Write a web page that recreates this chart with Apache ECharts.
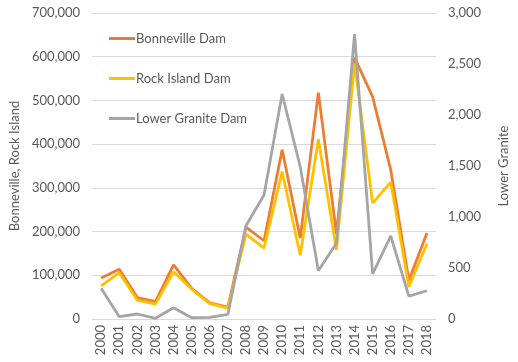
<!DOCTYPE html>
<html>
<head>
<meta charset="utf-8">
<script src="https://cdn.jsdelivr.net/npm/echarts@6/dist/echarts.min.js"></script>
<style>html,body{margin:0;padding:0;background:#fff}#c{width:518px;height:362px}</style>
</head>
<body>
<div id="c"></div>
<script>
const years = ['2000','2001','2002','2003','2004','2005','2006','2007','2008','2009','2010','2011','2012','2013','2014','2015','2016','2017','2018'];
const bonneville = [94000,114000,49000,40000,124000,70000,37000,27000,210000,179000,387000,185000,518000,195000,598000,508000,341000,88000,197000];
const rockIsland = [76000,106000,43000,34000,108000,68000,35000,25000,194000,162000,337000,146000,411000,158000,585000,265000,313000,74000,172000];
const lowerGranite = [301,23,49,7,111,13,15,45,915,1216,2206,1493,474,742,2794,441,814,225,277];
const leftTicks = {min:0,max:700000,interval:100000};
const rightTicks = {min:0,max:3000,interval:500};

const font = 'Lato, Open Sans, sans-serif';
const txt = '#595959';
const fs = 13;
const chart = echarts.init(document.getElementById('c'));
chart.setOption({
  animation:false,
  textStyle:{fontFamily:font},
  grid:{left:80,right:70,top:13,bottom:43,containLabel:false},
  legend:{
    orient:'vertical', left:104, top:27, itemGap:27,
    icon:'rect', itemWidth:26, itemHeight:3,
    textStyle:{color:txt,fontSize:fs,fontFamily:font,padding:[0,0,0,-4]},
    data:['Bonneville Dam','Rock Island Dam','Lower Granite Dam']
  },
  xAxis:{
    type:'category', data:years, boundaryGap:true,
    axisLine:{lineStyle:{color:'#d9d9d9'}},
    axisTick:{show:false},
    axisLabel:{rotate:90,color:txt,fontSize:fs,margin:6,interval:0}
  },
  yAxis:[
    {type:'value',min:leftTicks.min,max:leftTicks.max,interval:leftTicks.interval,
     name:'Bonneville, Rock Island',nameLocation:'middle',nameGap:68,nameRotate:90,
     nameTextStyle:{color:txt,fontSize:fs},
     axisLine:{show:false},axisTick:{show:false},
     splitLine:{lineStyle:{color:'#d9d9d9'}},
     axisLabel:{color:txt,fontSize:fs,margin:12,formatter:v=>v.toLocaleString('en-US')}},
    {type:'value',min:rightTicks.min,max:rightTicks.max,interval:rightTicks.interval,
     name:'Lower Granite',nameLocation:'middle',nameGap:61,nameRotate:90,
     nameTextStyle:{color:txt,fontSize:fs},
     axisLine:{show:false},axisTick:{show:false},splitLine:{show:false},
     axisLabel:{color:txt,fontSize:fs,margin:12,formatter:v=>v.toLocaleString('en-US')}}
  ],
  series:[
    {name:'Bonneville Dam',type:'line',data:bonneville,yAxisIndex:0,symbol:'none',
     lineStyle:{color:'#ED7D31',width:2.8},itemStyle:{color:'#ED7D31'}},
    {name:'Rock Island Dam',type:'line',data:rockIsland,yAxisIndex:0,symbol:'none',
     lineStyle:{color:'#FFC000',width:2.8},itemStyle:{color:'#FFC000'}},
    {name:'Lower Granite Dam',type:'line',data:lowerGranite,yAxisIndex:1,symbol:'none',
     lineStyle:{color:'#A5A5A5',width:2.8},itemStyle:{color:'#A5A5A5'}}
  ]
});
</script>
</body>
</html>
